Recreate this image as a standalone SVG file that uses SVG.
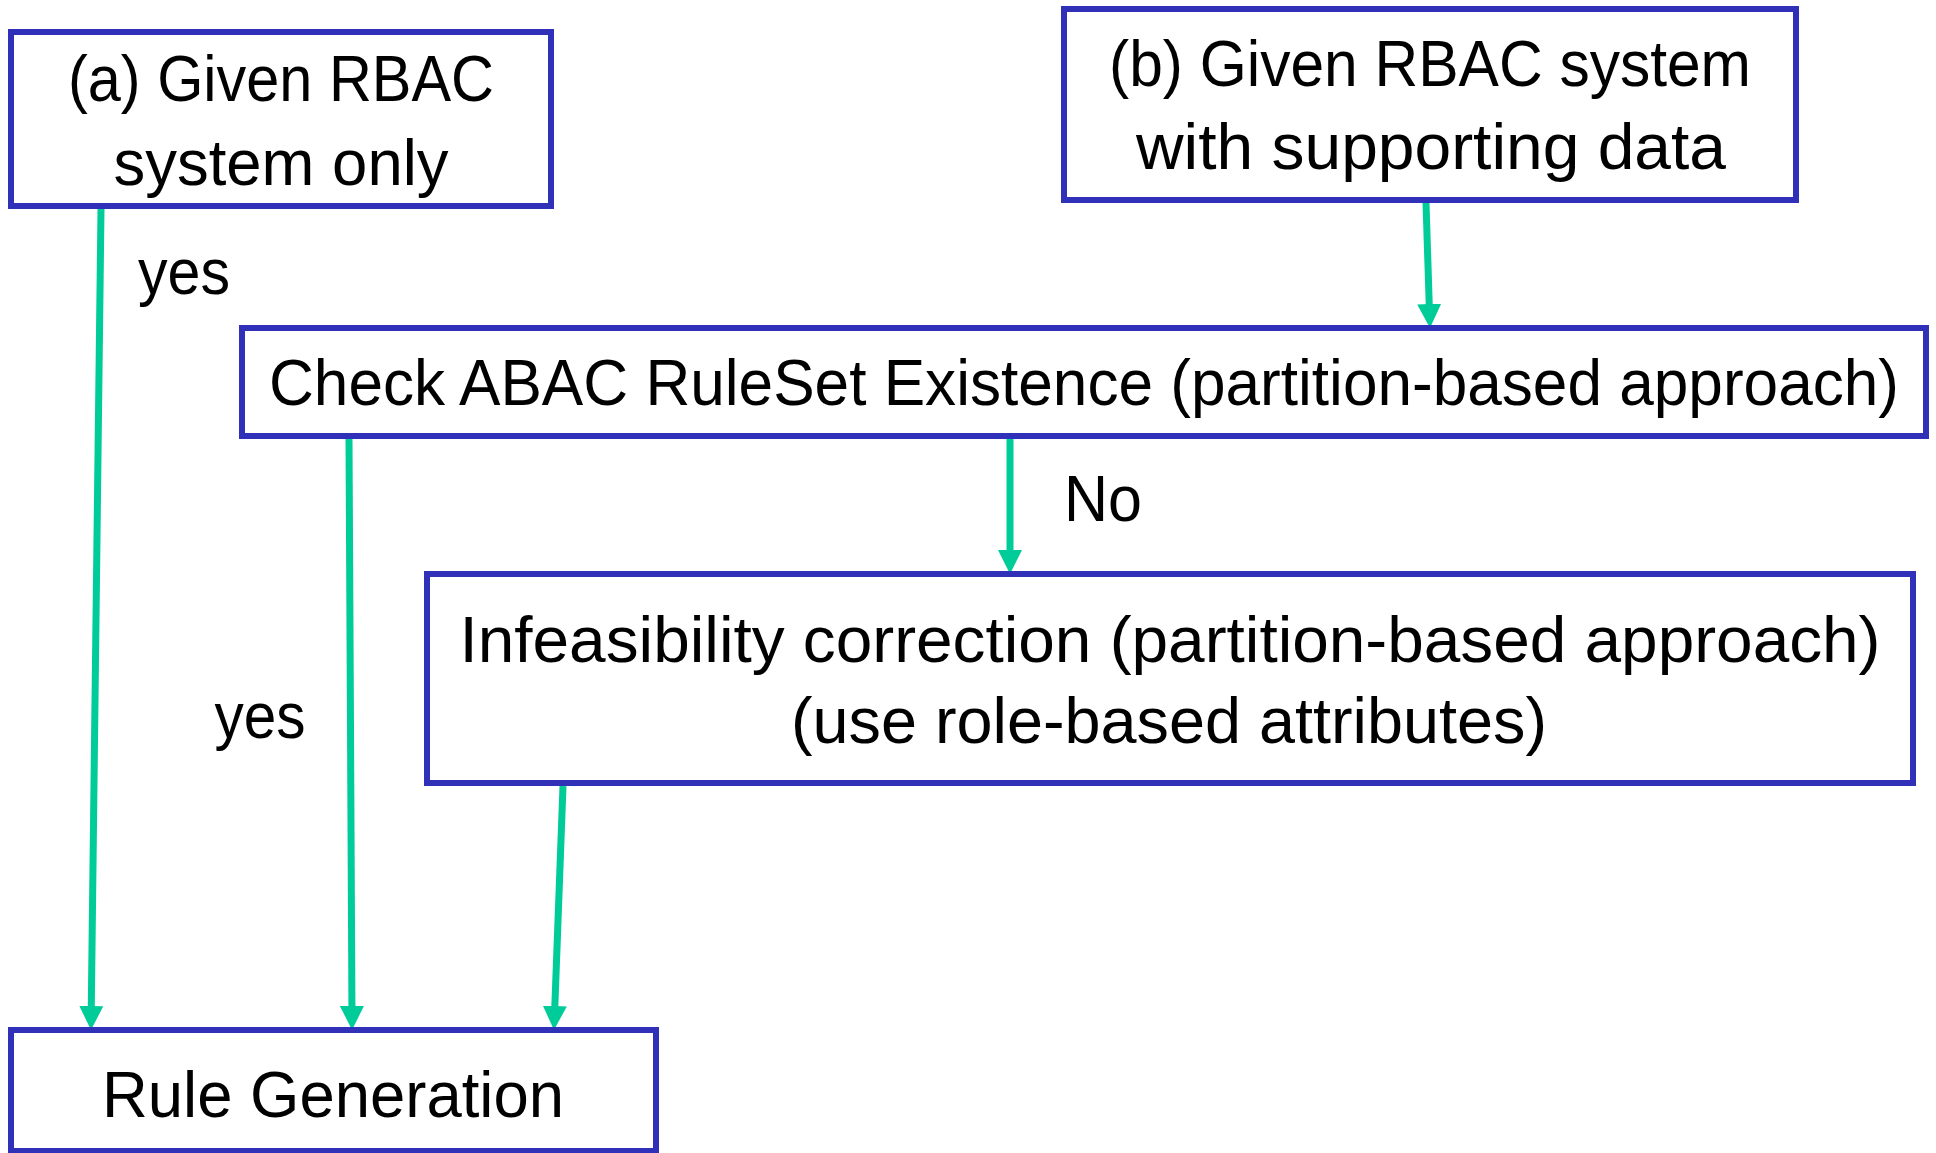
<svg xmlns="http://www.w3.org/2000/svg" width="1936" height="1153" viewBox="0 0 1936 1153">
<defs>
<style>
.box{fill:#fff;stroke:#3030B8;stroke-width:6}
.t{font-family:"Liberation Sans",Arial,sans-serif;font-size:64px;fill:#000;text-anchor:middle}
.c{stroke:#00CC99;stroke-width:7;fill:none}
</style>
<marker id="arr" markerUnits="userSpaceOnUse" markerWidth="24" markerHeight="24" viewBox="0 0 24 24" refX="12" refY="12" orient="auto">
<path d="M0,0 L24,12 L0,24 Z" fill="#00CC99"/>
</marker>
</defs>
<rect width="1936" height="1153" fill="#fff"/>
<g id="connectors">
<line class="c" x1="101" y1="209" x2="91.15" y2="1018" marker-end="url(#arr)"/>
<line class="c" x1="349" y1="439" x2="352" y2="1018" marker-end="url(#arr)"/>
<line class="c" x1="1426" y1="203" x2="1429.6" y2="316" marker-end="url(#arr)"/>
<line class="c" x1="1010" y1="439" x2="1010" y2="562" marker-end="url(#arr)"/>
<line class="c" x1="563" y1="786" x2="554.4" y2="1018" marker-end="url(#arr)"/>
<text class="t" x="184" y="294" textLength="92" lengthAdjust="spacingAndGlyphs">yes</text>
<text class="t" x="260" y="738" textLength="91" lengthAdjust="spacingAndGlyphs">yes</text>
<text class="t" x="1103" y="521" textLength="78" lengthAdjust="spacingAndGlyphs">No</text>
</g>
<g id="node-a">
<rect class="box" x="11" y="32" width="540" height="174"/>
<text class="t" x="281" y="101" textLength="426" lengthAdjust="spacingAndGlyphs">(a) Given RBAC</text>
<text class="t" x="281" y="185" textLength="335" lengthAdjust="spacingAndGlyphs">system only</text>
</g>
<g id="node-b">
<rect class="box" x="1064" y="9" width="732" height="191"/>
<text class="t" x="1430" y="86" textLength="642" lengthAdjust="spacingAndGlyphs">(b) Given RBAC system</text>
<text class="t" x="1431" y="169" textLength="590" lengthAdjust="spacingAndGlyphs">with supporting data</text>
</g>
<g id="node-check">
<rect class="box" x="242" y="328" width="1684" height="108"/>
<text class="t" x="1084" y="405" font-size="60" textLength="1630" lengthAdjust="spacingAndGlyphs">Check ABAC RuleSet Existence (partition-based approach)</text>
</g>
<g id="node-infeasibility">
<rect class="box" x="427" y="574" width="1486" height="209"/>
<text class="t" x="1170" y="662" textLength="1421" lengthAdjust="spacingAndGlyphs">Infeasibility correction (partition-based approach)</text>
<text class="t" x="1169" y="743" textLength="756" lengthAdjust="spacingAndGlyphs">(use role-based attributes)</text>
</g>
<g id="node-rulegen">
<rect class="box" x="11" y="1030" width="645" height="121"/>
<text class="t" x="333" y="1117" textLength="462" lengthAdjust="spacingAndGlyphs">Rule Generation</text>
</g>
</svg>
